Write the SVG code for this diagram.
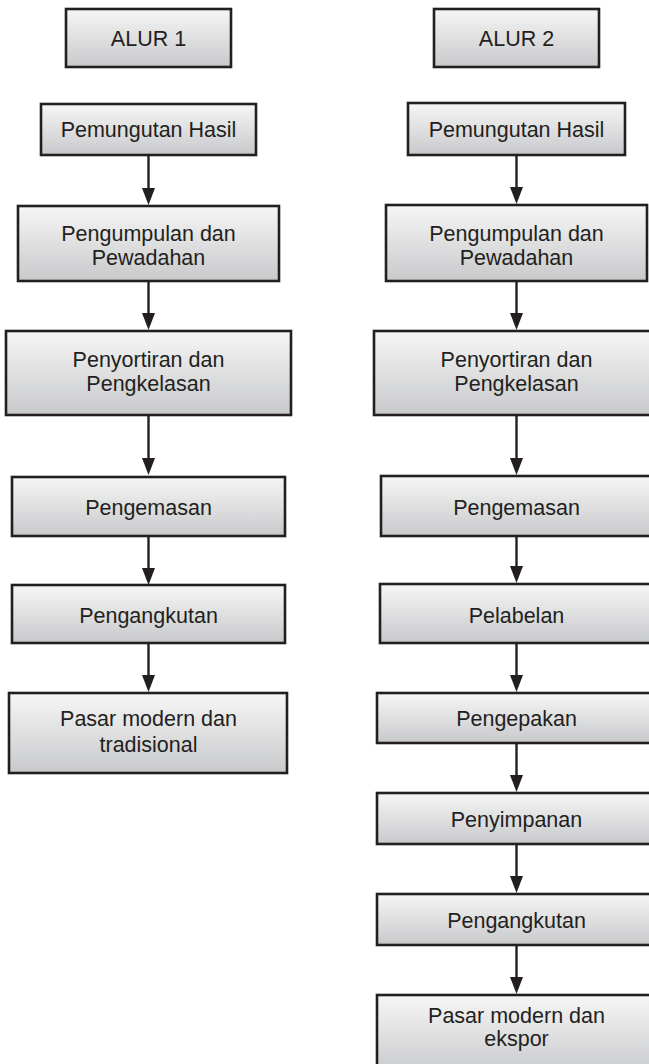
<svg xmlns="http://www.w3.org/2000/svg" width="649" height="1064" viewBox="0 0 649 1064">
<defs>
<linearGradient id="g" x1="0" y1="0" x2="0" y2="1">
<stop offset="0" stop-color="#f6f6f6"/>
<stop offset="1" stop-color="#c8c9cb"/>
</linearGradient>
<marker id="ah" markerUnits="userSpaceOnUse" markerWidth="17" markerHeight="14" viewBox="0 0 17 14" refX="9" refY="7" orient="auto">
<path d="M0,0.5 L17,7 L0,13.5 z" fill="#231f20"/>
</marker>
<style>
.b{fill:url(#g);stroke:#231f20;stroke-width:2.6}
.t{font-family:"Liberation Sans",Arial,sans-serif;font-size:21.5px;fill:#231f20;text-anchor:middle}
.c{stroke:#231f20;stroke-width:2.4;fill:none;marker-end:url(#ah)}
</style>
</defs>
<rect width="649" height="1064" fill="#ffffff"/>
<g id="connectors">
<path class="c" d="M148.5,155 V197"/>
<path class="c" d="M148.5,281 V322"/>
<path class="c" d="M148.5,415 V467"/>
<path class="c" d="M148.5,536 V577"/>
<path class="c" d="M148.5,643 V684"/>
<path class="c" d="M516.5,155 V196"/>
<path class="c" d="M516.5,281 V322"/>
<path class="c" d="M516.5,415 V467"/>
<path class="c" d="M516.5,536 V575"/>
<path class="c" d="M516.5,643 V684"/>
<path class="c" d="M516.5,743 V784"/>
<path class="c" d="M516.5,844 V885"/>
<path class="c" d="M516.5,945 V986"/>
</g>
<g id="alur1"><rect class="b" x="66" y="9" width="165" height="58"/><text class="t" x="148.5" y="46">ALUR 1</text></g>
<g id="l1"><rect class="b" x="41" y="104" width="215" height="51"/><text class="t" x="148.5" y="137">Pemungutan Hasil</text></g>
<g id="l2"><rect class="b" x="18" y="206" width="261" height="75"/><text class="t" x="148.5" y="240.5">Pengumpulan dan</text><text class="t" x="148.5" y="264.5">Pewadahan</text></g>
<g id="l3"><rect class="b" x="6" y="331" width="285" height="84"/><text class="t" x="148.5" y="366.5">Penyortiran dan</text><text class="t" x="148.5" y="390.5">Pengkelasan</text></g>
<g id="l4"><rect class="b" x="12" y="477" width="273" height="59"/><text class="t" x="148.5" y="514.5">Pengemasan</text></g>
<g id="l5"><rect class="b" x="12" y="585" width="273" height="58"/><text class="t" x="148.5" y="622.5">Pengangkutan</text></g>
<g id="l6"><rect class="b" x="9" y="693" width="278" height="80"/><text class="t" x="148.5" y="726">Pasar modern dan</text><text class="t" x="148.5" y="752">tradisional</text></g>
<g id="alur2"><rect class="b" x="434" y="9" width="165" height="58"/><text class="t" x="516.5" y="46">ALUR 2</text></g>
<g id="r1"><rect class="b" x="408" y="103" width="217" height="52"/><text class="t" x="516.5" y="136.5">Pemungutan Hasil</text></g>
<g id="r2"><rect class="b" x="386" y="205" width="261" height="76"/><text class="t" x="516.5" y="240.5">Pengumpulan dan</text><text class="t" x="516.5" y="264.5">Pewadahan</text></g>
<g id="r3"><rect class="b" x="374" y="331" width="285" height="84"/><text class="t" x="516.5" y="366.5">Penyortiran dan</text><text class="t" x="516.5" y="390.5">Pengkelasan</text></g>
<g id="r4"><rect class="b" x="381" y="476" width="271" height="60"/><text class="t" x="516.5" y="514.5">Pengemasan</text></g>
<g id="r5"><rect class="b" x="380" y="584" width="273" height="59"/><text class="t" x="516.5" y="622.5">Pelabelan</text></g>
<g id="r6"><rect class="b" x="377" y="693" width="279" height="50"/><text class="t" x="516.5" y="726">Pengepakan</text></g>
<g id="r7"><rect class="b" x="377" y="793" width="279" height="51"/><text class="t" x="516.5" y="827">Penyimpanan</text></g>
<g id="r8"><rect class="b" x="377" y="894" width="279" height="51"/><text class="t" x="516.5" y="928">Pengangkutan</text></g>
<g id="r9"><rect class="b" x="377" y="995" width="279" height="80"/><text class="t" x="516.5" y="1022.5">Pasar modern dan</text><text class="t" x="516.5" y="1046">ekspor</text></g>
</svg>
